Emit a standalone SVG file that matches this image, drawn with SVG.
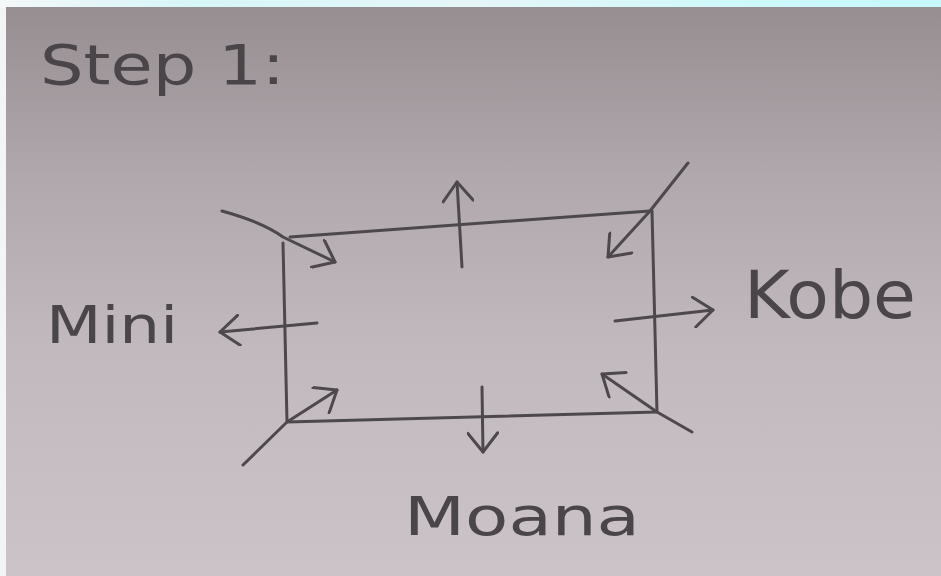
<svg xmlns="http://www.w3.org/2000/svg" width="941" height="576" viewBox="0 0 941 576">
  <defs>
    <linearGradient id="paper" x1="0" y1="0" x2="0" y2="1">
      <stop offset="0" stop-color="#968e91"/>
      <stop offset="0.3" stop-color="#b0a8ac"/>
      <stop offset="0.6" stop-color="#c1b9bd"/>
      <stop offset="1" stop-color="#cbc3c7"/>
    </linearGradient>
    <linearGradient id="band" x1="0" y1="0" x2="1" y2="0">
      <stop offset="0" stop-color="#f4f8f9"/>
      <stop offset="0.2" stop-color="#d6f6f8"/>
      <stop offset="0.5" stop-color="#e6f7f8"/>
      <stop offset="0.8" stop-color="#cdf8fa"/>
      <stop offset="1" stop-color="#c6f7fb"/>
    </linearGradient>
    <marker id="head" markerUnits="userSpaceOnUse" markerWidth="32" markerHeight="32" viewBox="0 0 32 32" refX="28" refY="16" orient="auto">
      <path d="M9,1 L28,16 L9,31" fill="none" stroke="#4d484b" stroke-width="3" stroke-linecap="round" stroke-linejoin="round"/>
    </marker>
  </defs>
  <style>
    .ink { fill: none; stroke: #4d484b; stroke-width: 3; stroke-linecap: round; stroke-linejoin: round; }
    .arrow { marker-end: url(#head); }
    .hand { font-family: "DejaVu Sans", "Liberation Sans", sans-serif; fill: #4a4548; font-weight: normal; }
  </style>
  <rect x="0" y="0" width="941" height="576" fill="#f2f4f5"/>
  <rect x="0" y="0" width="941" height="8" fill="url(#band)"/>
  <rect x="6" y="7" width="935" height="569" fill="url(#paper)"/>

  <g id="title">
    <text class="hand" x="40" y="84" font-size="56" textLength="245" lengthAdjust="spacingAndGlyphs">Step 1:</text>
  </g>

  <g id="box">
    <path class="ink" d="M290,237 L650,211 M283,243 L287,422 L657,412 L652,211"/>
  </g>

  <g id="label-mini">
    <text class="hand" x="46" y="343" font-size="52" textLength="132" lengthAdjust="spacingAndGlyphs">Mini</text>
  </g>
  <g id="label-kobe">
    <text class="hand" x="744" y="318" font-size="66" textLength="172" lengthAdjust="spacingAndGlyphs">Kobe</text>
  </g>
  <g id="label-moana">
    <text class="hand" x="404" y="535" font-size="54" textLength="236" lengthAdjust="spacingAndGlyphs">Moana</text>
  </g>

  <g id="connectors">
    <path class="ink arrow" d="M222,211 Q262,222 283,237 L335,262"/>
    <path class="ink arrow" d="M462,267 L457,182"/>
    <path class="ink arrow" d="M688,163 L650,211 L608,257"/>
    <path class="ink arrow" d="M615,321 L713,310"/>
    <path class="ink arrow" d="M317,323 L220,332"/>
    <path class="ink arrow" d="M243,465 L287,422 L337,390"/>
    <path class="ink arrow" d="M692,432 L657,412 L602,374"/>
    <path class="ink arrow" d="M482,387 L483,452"/>
  </g>
</svg>
